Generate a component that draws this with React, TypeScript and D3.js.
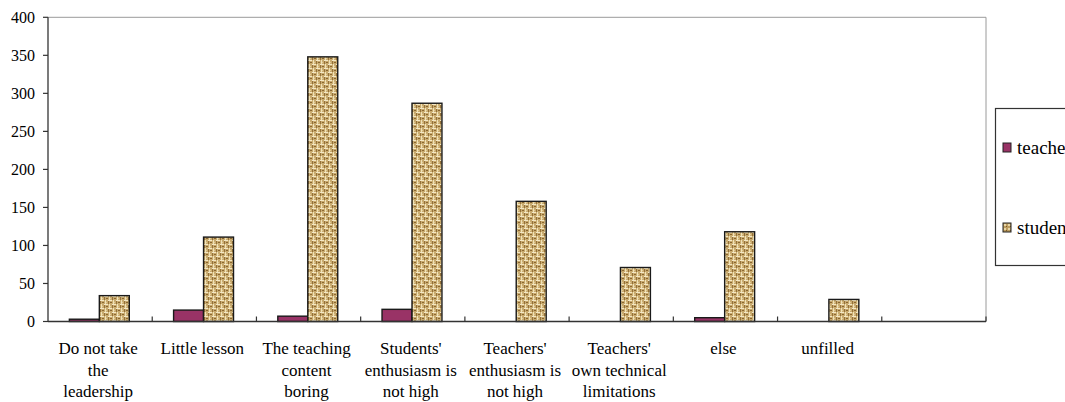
import React from "react";
import * as d3 from "d3";

const categories = [
  "Do not take the leadership",
  "Little lesson",
  "The teaching content boring",
  "Students' enthusiasm is not high",
  "Teachers' enthusiasm is not high",
  "Teachers' own technical limitations",
  "else",
  "unfilled",
  "",
];
const categoryLines = [
  ["Do not take", "the", "leadership"],
  ["Little lesson"],
  ["The teaching", "content", "boring"],
  ["Students'", "enthusiasm is", "not high"],
  ["Teachers'", "enthusiasm is", "not high"],
  ["Teachers'", "own technical", "limitations"],
  ["else"],
  ["unfilled"],
  [],
];
const seriesNames = ["teachers", "students"];
const teachers = [3, 15, 7, 16, 0, 0, 5, 0, null];
const students = [34, 111, 348, 287, 158, 71, 118, 29, null];
const yTicks = [0, 50, 100, 150, 200, 250, 300, 350, 400];

const W = 1065;
const H = 402;
const plot = { left: 48, right: 986, top: 17.3, bottom: 321.5 };
const FONT = "'Liberation Serif', 'Times New Roman', serif";
const TEACHER = "#993366";

export default function App() {
  const x = d3
    .scaleBand<string>()
    .domain(categories.map((c, i) => String(i)))
    .range([plot.left, plot.right])
    .padding(0);
  const bw = x.bandwidth();
  const xs = d3
    .scaleBand<string>()
    .domain(seriesNames)
    .range([bw * 0.205, bw * 0.78])
    .padding(0);
  const y = d3.scaleLinear().domain([0, 400]).range([plot.bottom, plot.top]);

  const series = [teachers, students];
  const txt = { fontFamily: FONT };

  return (
    <svg
      width={W}
      height={H}
      style={{ position: "absolute", left: 0, top: 0, background: "#fff", fontFamily: FONT }}
    >
      <defs>
        <pattern id="papyrus" width="8" height="8" patternUnits="userSpaceOnUse">
          <rect width="8" height="8" fill="#c9ab6f" />
          <rect x="0" y="0" width="4" height="1" fill="#f4e8c6" />
          <rect x="4" y="4" width="4" height="1" fill="#f4e8c6" />
          <rect x="0" y="1" width="1" height="3" fill="#94713a" />
          <rect x="4" y="5" width="1" height="3" fill="#94713a" />
          <rect x="5" y="0" width="1" height="4" fill="#f0e2b8" />
          <rect x="1" y="4" width="1" height="4" fill="#f0e2b8" />
          <rect x="2" y="2" width="2" height="1" fill="#8a6630" />
          <rect x="6" y="6" width="2" height="1" fill="#8a6630" />
          <rect x="6" y="2" width="1" height="1" fill="#e2cb95" />
          <rect x="2" y="6" width="1" height="1" fill="#e2cb95" />
        </pattern>
        <pattern id="papyrusSmall" width="4" height="4" patternUnits="userSpaceOnUse">
          <rect width="4" height="4" fill="#bd9d5f" />
          <rect x="0" y="0" width="2" height="2" fill="#e8d6a6" />
          <rect x="2" y="2" width="1" height="1" fill="#7c5a28" />
        </pattern>
      </defs>

      {/* plot frame: top and right in gray */}
      <line x1={plot.left} x2={plot.right} y1={plot.top} y2={plot.top} stroke="#9a9a9a" strokeWidth={1} />
      <line x1={plot.right} x2={plot.right} y1={plot.top} y2={plot.bottom} stroke="#9a9a9a" strokeWidth={1} />

      {/* bars */}
      {categories.map((c, i) =>
        series.map((s, si) => {
          const v = s[i];
          if (v === null || v === undefined || v === 0) return null;
          const x0 = (x(String(i)) as number) + (xs(seriesNames[si]) as number);
          return (
            <rect
              key={`${i}-${si}`}
              x={x0}
              y={y(v)}
              width={xs.bandwidth()}
              height={y(0) - y(v)}
              fill={si === 0 ? TEACHER : "url(#papyrus)"}
              stroke="#1a1a1a"
              strokeWidth={1.4}
            />
          );
        })
      )}

      {/* y axis */}
      <line x1={plot.left} x2={plot.left} y1={plot.top} y2={plot.bottom} stroke="#333" strokeWidth={1.3} />
      {yTicks.map((t) => (
        <g key={t}>
          <line x1={plot.left - 5} x2={plot.left} y1={y(t)} y2={y(t)} stroke="#333" strokeWidth={1.2} />
          <text
            x={35}
            y={y(t)}
            dy="0.35em"
            textAnchor="end"
            style={txt}
            fontSize={16}
            fill="#000"
          >
            {t}
          </text>
        </g>
      ))}

      {/* x axis */}
      <line x1={plot.left} x2={plot.right} y1={plot.bottom} y2={plot.bottom} stroke="#333" strokeWidth={1.3} />
      {categories.map((c, i) => (
        <line
          key={`t${i}`}
          x1={(x(String(i)) as number) + bw}
          x2={(x(String(i)) as number) + bw}
          y1={plot.bottom - 5}
          y2={plot.bottom}
          stroke="#333"
          strokeWidth={1.2}
        />
      ))}
      {categoryLines.map((lines, i) => (
        <text key={`l${i}`} textAnchor="middle" style={txt} fontSize={17} fill="#000">
          {lines.map((ln, k) => (
            <tspan key={k} x={(x(String(i)) as number) + bw / 2 - 2} y={354 + k * 21.5}>
              {ln}
            </tspan>
          ))}
        </text>
      ))}

      {/* legend */}
      <rect x={995.5} y={108.5} width={100} height={157} fill="#fff" stroke="#333" strokeWidth={1.2} />
      {seriesNames.map((n, i) => (
        <g key={n}>
          <rect
            x={1003}
            y={143 + i * 80}
            width={8}
            height={9}
            fill={i === 0 ? TEACHER : "url(#papyrusSmall)"}
            stroke="#222"
            strokeWidth={1}
          />
          <text x={1017} y={153.5 + i * 80} style={txt} fontSize={19} fill="#000">
            {n}
          </text>
        </g>
      ))}
    </svg>
  );
}
